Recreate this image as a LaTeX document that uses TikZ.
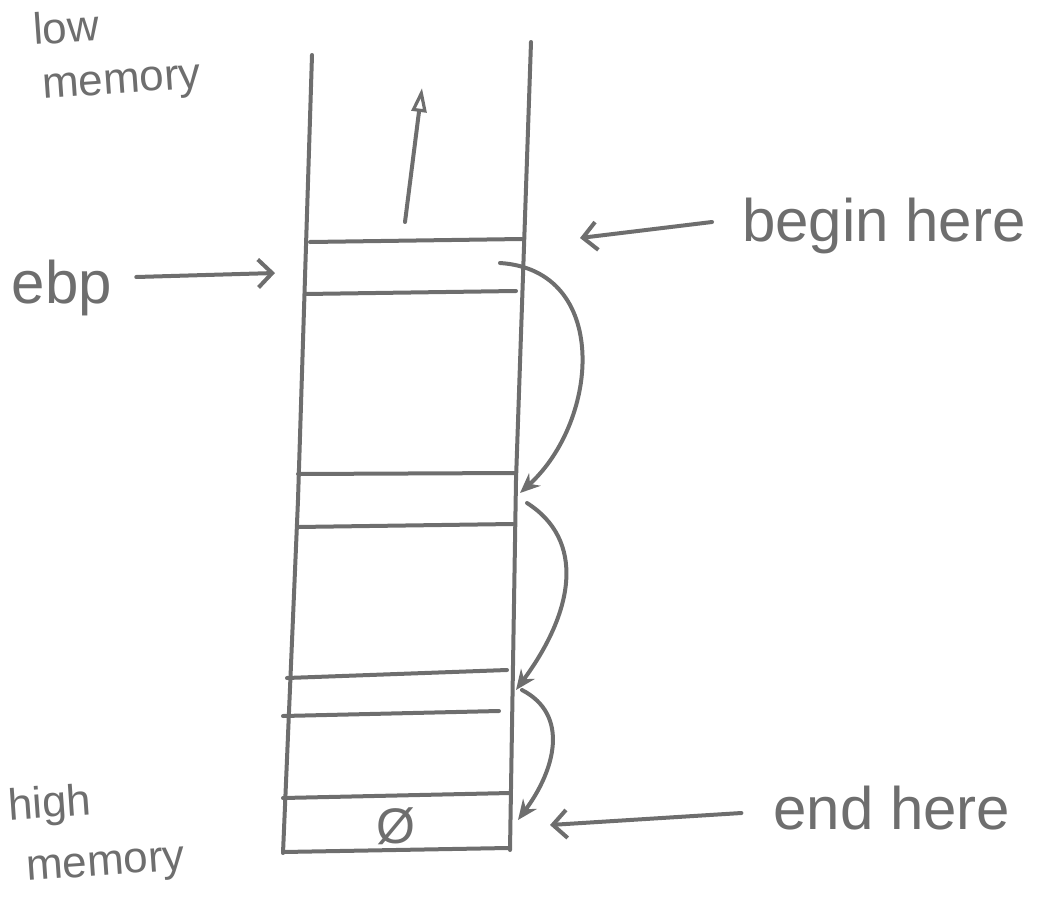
\documentclass[tikz,border=0pt]{standalone}
\usepackage{fontspec}
\setmainfont{Liberation Sans}
\usetikzlibrary{arrows.meta}
\definecolor{ink}{HTML}{6E6E6E}
\tikzset{
  pen/.style={draw=ink, line width=4pt, line cap=round, line join=round},
  hand/.style={text=ink, font=\fontsize{44}{50}\selectfont, inner sep=0pt},
  bighand/.style={text=ink, font=\fontsize{60}{64}\selectfont, inner sep=0pt},
  barb/.style={pen, -{Straight Barb[length=14pt,width=28pt,line width=4pt]}},
  curv/.style={pen, -{Stealth[length=20pt,width=17pt]}},
  uparr/.style={pen, -{Triangle[open,length=24pt,width=15pt,line width=3.2pt]}}
}
\begin{document}
\begin{tikzpicture}[x=1pt,y=-1pt]
\useasboundingbox (0,0) rectangle (1046,902);
% stack edges
\coordinate (lt) at (312,55);
\coordinate (lm) at (298,500);
\coordinate (lb) at (283,853);
\coordinate (rt) at (531,42);
\coordinate (rm) at (516,480);
\coordinate (rb) at (510,850);
\draw[pen] (lt) -- (lm) -- (lb);
\draw[pen] (rt) -- (rm) -- (rb);
% cell boundaries
\draw[pen] (310,242) -- (522,239);
\draw[pen] (305,294) -- (516,291);
\draw[pen] (298,474) -- (515,473);
\draw[pen] (297,527) -- (513,524);
\draw[pen] (287,678) -- (507,670);
\draw[pen] (283,716) -- (499,711);
\draw[pen] (283,798) -- (510,793);
\draw[pen] (283,852) -- (508,848);
% null cell
\node[text=ink, font=\fontsize{50}{54}\selectfont, inner sep=0pt] (null) at (396,826) {Ø};
% up arrow
\coordinate (upS) at (405,222);
\coordinate (upE) at (422,88);
\draw[uparr] (upS) -- (upE);
% labels
\node[hand, rotate=4] (low) at (66,27) {low};
\node[hand, rotate=4] (lowmem) at (122,86) {memory};
\node[hand, rotate=4] (high) at (50,806) {high};
\node[hand, rotate=4] (highmem) at (106,868) {memory};
\node[bighand] (ebp) at (62,288) {ebp};
\node[bighand] (begin) at (884,226) {begin here};
\node[bighand] (end) at (892,808) {end here};
% pointer arrows
\coordinate (ebpT) at (275,273);
\coordinate (beginT) at (580,238);
\coordinate (endT) at (550,825);
\draw[barb] ([xshift=24pt,yshift=11pt]ebp.east) -- (ebpT);
\draw[barb] ([xshift=-30pt,yshift=4pt]begin.west) -- (beginT);
\draw[barb] ([xshift=-32pt,yshift=-5pt]end.west) -- (endT);
% frame chain
\coordinate (c1s) at (500,263);
\coordinate (c1e) at (520,493);
\coordinate (c2s) at (527,503);
\coordinate (c2e) at (516,690);
\coordinate (c3s) at (522,690);
\coordinate (c3e) at (518,820);
\draw[curv] (c1s) .. controls (610,270) and (600,420) .. (c1e);
\draw[curv] (c2s) .. controls (585,540) and (575,610) .. (c2e);
\draw[curv] (c3s) .. controls (570,715) and (555,770) .. (c3e);
\end{tikzpicture}
\end{document}
